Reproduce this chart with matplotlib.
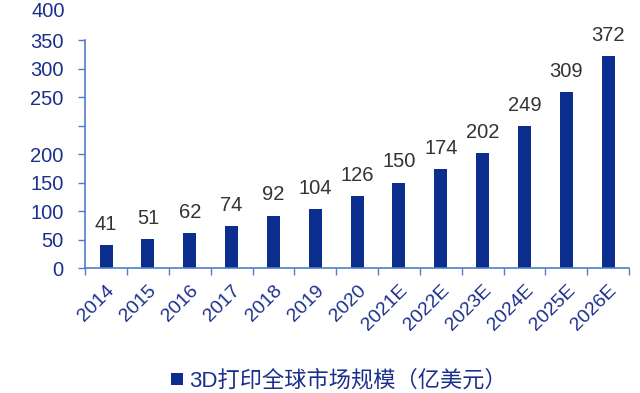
import matplotlib
matplotlib.use("Agg")
import matplotlib.pyplot as plt
from matplotlib.patches import Patch

years = ["2014", "2015", "2016", "2017", "2018", "2019", "2020",
         "2021E", "2022E", "2023E", "2024E", "2025E", "2026E"]
market_size = [41, 51, 62, 74, 92, 104, 126, 150, 174, 202, 249, 309, 372]
y_ticks = [0, 50, 100, 150, 200, 250, 300, 350, 400]
# labels as printed in the source (the 250 tick is unlabelled, the rest shift up)
y_tick_labels = ["0", "50", "100", "150", "200", "", "250", "300", "350"]
top_label = "400"
legend_label = "3D打印全球市场规模（亿美元）"

bar_color = "#0B2D8E"
axis_color = "#4F7FC8"
tick_text = "#1B2F8C"

plt.rcParams["font.family"] = ["Liberation Sans", "Noto Sans CJK SC", "DejaVu Sans"]

fig = plt.figure(figsize=(6.4, 3.93), dpi=100)
ax = fig.add_axes([0.133, 0.318, 0.85, 0.580])

x = range(len(years))
ax.bar(x, market_size, width=0.31, color=bar_color)
for i, v in zip(x, market_size):
    ax.annotate(str(v), (i, v), xytext=(0, 8), textcoords="offset points",
                ha="center", va="bottom", fontsize=14.5, color="#333333")

ax.set_xlim(-0.5, len(years) - 0.5)
ax.set_ylim(0, 400)

for side in ["top", "right"]:
    ax.spines[side].set_visible(False)
for side in ["left", "bottom"]:
    ax.spines[side].set_color(axis_color)
    ax.spines[side].set_linewidth(1.2)

ax.set_yticks(y_ticks)
ax.set_yticklabels(y_tick_labels)
ax.annotate(top_label, (0, 450), xycoords=("axes fraction", "data"),
            xytext=(-14.5, 0), textcoords="offset points", annotation_clip=False,
            ha="right", va="center", fontsize=14.5, color=tick_text)
ax.tick_params(axis="y", length=5, width=1, color=axis_color, pad=10.5,
               labelsize=14.5, labelcolor=tick_text)

ax.set_xticks(list(x))
ax.set_xticklabels(years, rotation=45, ha="right", va="top",
                   rotation_mode="anchor")
ax.set_xticks([i + 0.5 for i in range(-1, len(years))], minor=True)
ax.tick_params(axis="x", which="major", length=0, pad=10,
               labelsize=14, labelcolor=tick_text)
ax.tick_params(axis="x", which="minor", length=5, width=1, color=axis_color)

handle = Patch(facecolor=bar_color, edgecolor="none")
fig.legend([handle], [legend_label], loc="center", bbox_to_anchor=(0.53, 0.03),
           frameon=False, fontsize=16, handlelength=0.5, handleheight=0.5,
           handletextpad=0.3, labelcolor=tick_text)

fig.savefig("out.png", dpi=100)
